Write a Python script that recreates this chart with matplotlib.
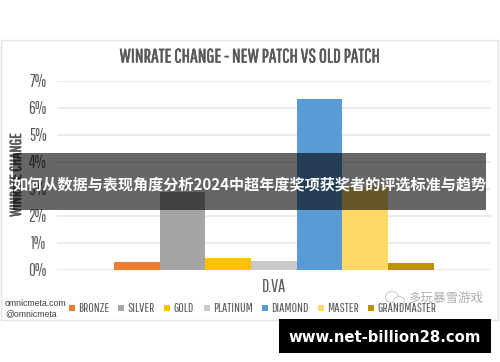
import matplotlib
matplotlib.use("Agg")
import matplotlib.pyplot as plt
import matplotlib.patheffects as pe
from matplotlib.patches import Rectangle, Ellipse

ranks = ["BRONZE", "SILVER", "GOLD", "PLATINUM", "DIAMOND", "MASTER", "GRANDMASTER"]
winrate_change = [0.28, 2.89, 0.43, 0.33, 6.33, 3.05, 0.27]
colors = ["#ED7D31", "#A5A5A5", "#FFC000", "#C9C9C9", "#5B9BD5", "#FFD966", "#BF9000"]
y_ticks = [0, 1, 2, 3, 4, 5, 6, 7]
hero = "D.VA"
chart_title = "WINRATE CHANGE - NEW PATCH VS OLD PATCH"
y_title = "WINRATE CHANGE"
banner_text = "如何从数据与表现角度分析2024中超年度奖项获奖者的评选标准与趋势"
site_text = "www.net-billion28.com"
source_lines = "omnicmeta.com\n@omnicmeta"
watermark = "多玩暴雪游戏"

W, H = 500, 362
CJK = ["Noto Sans CJK SC", "DejaVu Sans"]
NARROW = ["Pathway Gothic One", "Bebas Neue", "Liberation Sans"]
GREY = "#595959"
THICK = [pe.withStroke(linewidth=0.35, foreground=GREY)]

def px_box(x0, y0, x1, y1):
    # pixel box (y from the top) to figure fractions
    return [x0 / W, 1 - y1 / H, (x1 - x0) / W, (y1 - y0) / H]

fig = plt.figure(figsize=(W / 100, H / 100), dpi=100)

# card border, kept under the axes
fig.add_artist(Rectangle((1 / W, 1 - 320 / H), 497 / W, 280 / H, transform=fig.transFigure,
                         facecolor="white", edgecolor="#E4E4E4", linewidth=1, zorder=-1))

ax = fig.add_axes(px_box(57, 80.5, 491, 270))
ax.set_xlim(0, 9.5)
ax.set_ylim(0, 7)
ax.patch.set_alpha(0)
for s in ax.spines.values():
    s.set_visible(False)
ax.yaxis.grid(True, color="#E8E8E8", linewidth=1.2)
ax.set_axisbelow(True)
ax.tick_params(length=0, pad=7.5)
ax.set_xticks([])
ax.set_yticks(y_ticks)
ax.set_yticklabels([f"{v}%" for v in y_ticks], family=NARROW, fontsize=12, color=GREY)

for i, (v, c) in enumerate(zip(winrate_change, colors)):
    ax.bar(1.248 + i + 0.5, v, width=1.0, color=c, label=ranks[i])

ylab = ax.set_ylabel(y_title, family=NARROW, fontsize=11.5, color=GREY, labelpad=3)
ylab.set_path_effects(THICK)

fig.text(250 / W, 1 - 57 / H, chart_title, family=NARROW, fontsize=14, color=GREY,
         ha="center", va="center", path_effects=THICK)
fig.text(274 / W, 1 - 287 / H, hero, family=NARROW, fontsize=13, color=GREY,
         ha="center", va="center")
fig.text(5 / W, 1 - 309 / H, source_lines, family="Liberation Sans", fontsize=6.3,
         color="#404040", ha="left", va="center", linespacing=1.15)

# legend
leg_x = [69, 118, 164, 204, 262, 318, 368]
for x, name, c in zip(leg_x, ranks, colors):
    fig.add_artist(Rectangle((x / W, 1 - 311 / H), 6 / W, 6 / H, transform=fig.transFigure,
                             facecolor=c, edgecolor="none"))
    fig.text((x + 9) / W, 1 - 308 / H, name, family=NARROW, fontsize=9.5, color=GREY,
             ha="left", va="center")

# watermark with its chat icon
for cx, cy, w, h in [(392, 297, 13, 11), (399, 301, 11, 9)]:
    fig.add_artist(Ellipse((cx / W, 1 - cy / H), w / W, h / H, transform=fig.transFigure,
                           facecolor="white", edgecolor="#CFCFCF", linewidth=0.8))
fig.text(446 / W, 1 - 298 / H, watermark, family=CJK, fontsize=9, color="#9A9A9A",
         alpha=0.8, ha="center", va="center")

# overlay banner
fig.add_artist(Rectangle((13 / W, 1 - 210 / H), 473 / W, 57 / H, transform=fig.transFigure,
                         facecolor="black", alpha=0.6, edgecolor="none", zorder=5))
fig.text(249.5 / W, 1 - 184 / H, banner_text, family=CJK, fontsize=10.9, fontweight="bold",
         color="white", ha="center", va="center", zorder=6)

# site tag
fig.add_artist(Rectangle((279 / W, 1 - 353 / H), 212 / W, 34 / H, transform=fig.transFigure,
                         facecolor="black", edgecolor="none", zorder=5))
fig.text(385 / W, 1 - 337 / H, site_text, family="DejaVu Sans", fontsize=10.7, fontweight="bold",
         color="white", ha="center", va="center", zorder=6)

fig.savefig("out.png", dpi=100)
plt.close(fig)
